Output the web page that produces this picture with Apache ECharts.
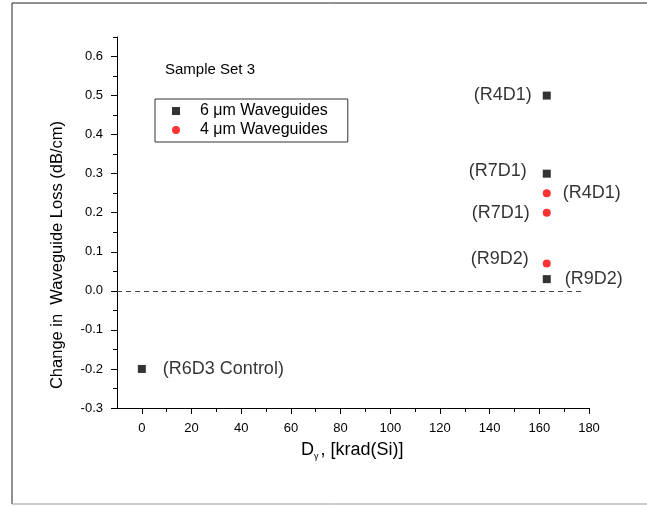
<!DOCTYPE html>
<html>
<head>
<meta charset="utf-8">
<script src="https://cdn.jsdelivr.net/npm/echarts@6/dist/echarts.min.js"></script>
<style>
html,body{margin:0;padding:0;background:#fff;}
#main{width:647px;height:506px;}
</style>
</head>
<body>
<div id="main"></div>
<script>
// 6 um waveguides (black squares)
var sixDose = [0, 163, 163, 163];
var sixLoss = [-0.2, 0.5, 0.3, 0.03];
var sixTags = ['(R6D3 Control)', '(R4D1)', '(R7D1)', '(R9D2)'];
// 4 um waveguides (red circles)
var fourDose = [163, 163, 163];
var fourLoss = [0.25, 0.2, 0.07];
var fourTags = ['(R4D1)', '(R7D1)', '(R9D2)'];

var xTicks = [0, 20, 40, 60, 80, 100, 120, 140, 160, 180];
var xMinor = [10, 30, 50, 70, 90, 110, 130, 150, 170];
var yTicks = [-0.3, -0.2, -0.1, 0, 0.1, 0.2, 0.3, 0.4, 0.5, 0.6];
var yMinor = [-0.25, -0.15, -0.05, 0.05, 0.15, 0.25, 0.35, 0.45, 0.55, 0.65];

var font = 'Liberation Sans, Arial, sans-serif';

// where each tag sits next to its point: side, distance, vertical shift
var sixPlace = [['right', 17, 0], ['left', 11, -1], ['left', 16, -3], ['right', 14, 0]];
var fourPlace = [['right', 12, 0], ['left', 13, 0], ['left', 14, -4]];

function points(xs, ys, tags, place){
    var out = [];
    for (var i = 0; i < xs.length; i++) {
        out.push({
            value: [xs[i], ys[i]],
            label: {
                show: true,
                formatter: tags[i],
                position: place[i][0],
                distance: place[i][1],
                offset: [0, place[i][2]]
            }
        });
    }
    return out;
}

var dom = document.getElementById('main');
var myChart = echarts.init(dom);

var axisCommon = {
    type: 'value',
    gridIndex: 0,
    splitLine: {show: false},
    axisLine: {show: true, onZero: false, lineStyle: {color: '#000', width: 1}}
};

var option = {
    backgroundColor: '#fff',
    animation: false,
    textStyle: {fontFamily: font},
    grid: {left: 117, top: 37, right: 58, bottom: 98},
    xAxis: [
        Object.assign({}, axisCommon, {
            min: -10, max: 180, position: 'bottom',
            axisTick: {show: true, length: 6, customValues: xTicks, lineStyle: {color: '#000'}},
            axisLabel: {customValues: xTicks, color: '#000', fontSize: 13, margin: 14, fontFamily: font}
        }),
        Object.assign({}, axisCommon, {
            min: -10, max: 180, position: 'bottom',
            axisLine: {show: false, onZero: false},
            axisTick: {show: true, length: 4, customValues: xMinor, lineStyle: {color: '#000'}},
            axisLabel: {show: false}
        })
    ],
    yAxis: [
        Object.assign({}, axisCommon, {
            min: -0.3, max: 0.65, position: 'left',
            axisTick: {show: true, length: 6, customValues: yTicks, lineStyle: {color: '#000'}},
            axisLabel: {
                customValues: yTicks, color: '#000', fontSize: 13, margin: 14, fontFamily: font,
                formatter: function(v){ return v.toFixed(1); }
            }
        }),
        Object.assign({}, axisCommon, {
            min: -0.3, max: 0.65, position: 'left',
            axisLine: {show: false, onZero: false},
            axisTick: {show: true, length: 4, customValues: yMinor, lineStyle: {color: '#000'}},
            axisLabel: {show: false}
        })
    ],
    legend: {
        left: 155, top: 99,
        orient: 'vertical',
        borderColor: '#333', borderWidth: 1,
        padding: [4, 20, 4, 17],
        itemWidth: 8, itemHeight: 8, itemGap: 3,
        textStyle: {fontSize: 16, color: '#000', fontFamily: font, padding: [0, 0, 0, 15]},
        data: [
            {name: '6 μm Waveguides', icon: 'rect'},
            {name: '4 μm Waveguides', icon: 'circle'}
        ]
    },
    graphic: [
        {type: 'line', shape: {x1: 12, y1: 3, x2: 647, y2: 3}, style: {stroke: '#222', lineWidth: 1}},
        {type: 'line', shape: {x1: 12, y1: 3, x2: 12, y2: 504}, style: {stroke: '#222', lineWidth: 1}},
        {type: 'line', shape: {x1: 12, y1: 504, x2: 647, y2: 504}, style: {stroke: '#999', lineWidth: 1}},
        {type: 'text', left: 165, top: 62, style: {text: 'Sample Set 3', fontSize: 15, fill: '#000', fontFamily: font}},
        {
            type: 'text', x: 57, y: 255, rotation: Math.PI / 2,
            style: {text: 'Change in  Waveguide Loss (dB/cm)', fontSize: 16.5, fill: '#000', fontFamily: font, align: 'center', verticalAlign: 'middle'}
        },
        {
            type: 'text', x: 301, y: 450,
            style: {
                text: '{d|D}{s|γ}{d|, [krad(Si)]}',
                verticalAlign: 'middle',
                rich: {
                    d: {fontSize: 18, fill: '#000', fontFamily: font},
                    s: {fontSize: 9, fill: '#000', fontFamily: font, padding: [13, 2, 0, 0]}
                }
            }
        }
    ],
    series: [
        {
            name: '6 μm Waveguides',
            type: 'scatter',
            symbol: 'rect',
            symbolSize: 8,
            itemStyle: {color: '#000'},
            label: {color: '#000', fontSize: 18, fontFamily: font},
            data: points(sixDose, sixLoss, sixTags, sixPlace),
            markLine: {
                silent: true,
                symbol: 'none',
                label: {show: false},
                lineStyle: {color: '#444', type: [5, 4], width: 1},
                data: [[{coord: [-10, 0]}, {coord: [178, 0]}]]
            }
        },
        {
            name: '4 μm Waveguides',
            type: 'scatter',
            symbol: 'circle',
            symbolSize: 8,
            itemStyle: {color: '#ff0000'},
            label: {color: '#000', fontSize: 18, fontFamily: font},
            data: points(fourDose, fourLoss, fourTags, fourPlace)
        }
    ]
};

if (option && typeof option === "object") {
    myChart.setOption(option, true);
}
</script>
</body>
</html>
